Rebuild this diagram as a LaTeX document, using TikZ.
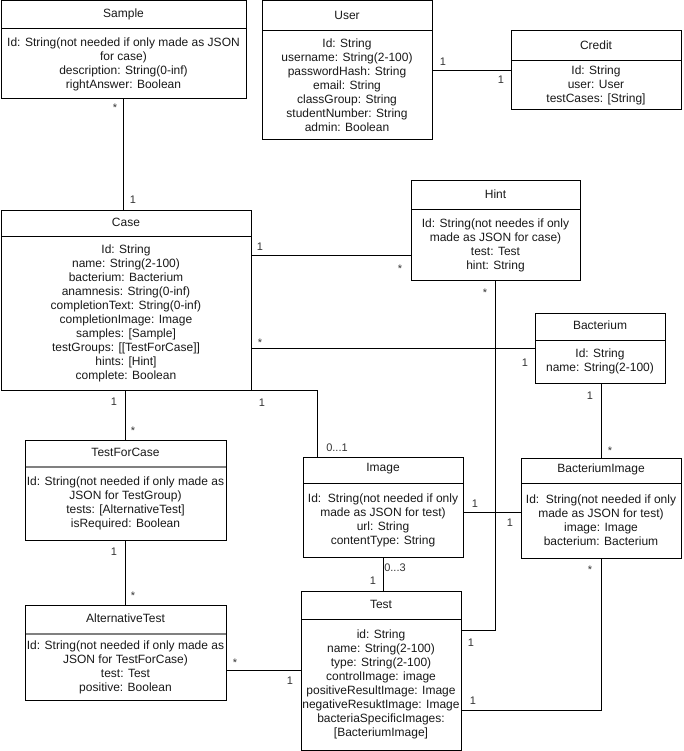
\documentclass[tikz,border=0pt]{standalone}
\usepackage{fontspec}
\setmainfont{Liberation Sans}
\usetikzlibrary{calc}
\newcommand\umlbox[8]{%
  \node[umlrect, minimum width=#4pt, minimum height=#5pt, anchor=north west] (#1) at (#2,#3) {};
  \draw[umlline] ($(#1.north west)+(0,#6)$) -- ($(#1.north east)+(0,#6)$);
  \node[umltext] (#1-title) at ($(#1.north)+(0,{#6/2-1})$) {#7};
  \node[umltext] (#1-body) at ($(#1.north)+(0,{(#5+#6)/2})$) {#8};
}
\begin{document}
\begin{tikzpicture}[x=1pt,y=-1pt,
  umlrect/.style={draw, line width=1pt, inner sep=0pt, outer sep=0pt, fill=white},
  umlline/.style={line width=1pt},
  umltext/.style={inner sep=0pt, align=center, font=\fontsize{12}{14}\selectfont, text=black!90},
  conn/.style={line width=1pt},
  grayhdr/.style={line width=2pt, draw=black!50},
  mult/.style={inner sep=0pt, font=\fontsize{11}{13}\selectfont, text=black!80, text height=8pt, text depth=0pt}]
\useasboundingbox[fill=white] (0,0) rectangle (684,751);

\umlbox{sample}{1}{1}{245}{98}{28}{Sample}{Id: String(not needed if only made as JSON\\for case)\\description: String(0-inf)\\rightAnswer: Boolean}
\umlbox{user}{262}{1}{170}{139}{30}{User}{Id: String\\username: String(2-100)\\passwordHash: String\\email: String\\classGroup: String\\studentNumber: String\\admin: Boolean}
\umlbox{credit}{511}{31}{170}{79}{30}{Credit}{Id: String\\user: User\\testCases: [String]}
\umlbox{case}{1}{211}{250}{179}{25}{Case}{Id: String\\name: String(2-100)\\bacterium: Bacterium\\anamnesis: String(0-inf)\\completionText: String(0-inf)\\completionImage: Image\\samples: [Sample]\\testGroups: [[TestForCase]]\\hints: [Hint]\\complete: Boolean}
\umlbox{hint}{411}{181}{169}{99}{29}{Hint}{Id: String(not needes if only\\made as JSON for case)\\test: Test\\hint: String}
\umlbox{bacterium}{535}{313}{130}{70}{27}{Bacterium}{Id: String\\name: String(2-100)}
\umlbox{testforcase}{25}{440}{201}{100}{27}{TestForCase}{Id: String(not needed if only made as\\JSON for TestGroup)\\tests: [AlternativeTest]\\isRequired: Boolean}
\umlbox{image}{303}{457}{160}{100}{26}{Image}{Id:\ \ String(not needed if only\\made as JSON for test)\\url: String\\contentType: String}
\umlbox{bactimage}{521}{458}{160}{100}{25}{BacteriumImage}{Id:\ \ String(not needed if only\\made as JSON for test)\\image: Image\\bacterium: Bacterium}
\umlbox{alttest}{25}{605}{201}{95}{29}{AlternativeTest}{Id: String(not needed if only made as\\JSON for TestForCase)\\test: Test\\positive: Boolean}
\umlbox{test}{301}{591}{160}{159}{28}{Test}{id: String\\name: String(2-100)\\type: String(2-100)\\controlImage: image\\positiveResultImage: Image\\negativeResuktImage: Image\\bacteriaSpecificImages:\\{[BacteriumImage]}}

% grey header separators
\draw[grayhdr] ($(testforcase.north west)+(0.5,27)$) -- ($(testforcase.north east)+(-0.5,27)$);
\draw[grayhdr] ($(alttest.north west)+(0.5,29)$) -- ($(alttest.north east)+(-0.5,29)$);

% connectors
\draw[conn] (sample.south) -- (sample.south |- case.north);
\draw[conn] (user.east |- credit.west) -- (credit.west);
\draw[conn] ($(case.north east)+(0,44)$) -- (hint.west |- {$(case.north east)+(0,44)$});
\draw[conn] (case.east |- bacterium.west) -- (bacterium.west);
\draw[conn] (testforcase.north |- case.south) -- (testforcase.north);
\draw[conn] (case.south east) -| ($(image.north west)+(14,0)$);
\draw[conn] (hint.south) |- ($(test.north east)+(0,39)$);
\draw[conn] (bactimage.north |- bacterium.south) -- (bactimage.north);
\draw[conn] ($(image.north east)+(0,55)$) -- (bactimage.west |- {$(image.north east)+(0,55)$});
\draw[conn] (image.south) -- (image.south |- test.north);
\draw[conn] (alttest.north |- testforcase.south) -- (alttest.north);
\draw[conn] ($(alttest.north east)+(0,65)$) -- (test.west |- {$(alttest.north east)+(0,65)$});
\draw[conn] ($(test.north east)+(0,119)$) -| (bactimage.south);

% multiplicities
\node[mult] (m1) at (115,108) {*};
\node[mult] (m2) at (133,200) {1};
\node[mult] (m3) at (443,62) {1};
\node[mult] (m4) at (501,80) {1};
\node[mult] (m5) at (260,246) {1};
\node[mult] (m6) at (400,268) {*};
\node[mult] (m7) at (485,292) {*};
\node[mult] (m8) at (471,642) {1};
\node[mult] (m9) at (260,342) {*};
\node[mult] (m10) at (525,362) {1};
\node[mult] (m11) at (114,401) {1};
\node[mult] (m12) at (133,430) {*};
\node[mult] (m13) at (262,402) {1};
\node[mult] (m14) at (337,447) {0...1};
\node[mult] (m15) at (590,395) {1};
\node[mult] (m16) at (610,450) {*};
\node[mult] (m17) at (475,503) {1};
\node[mult] (m18) at (510,522) {1};
\node[mult] (m19) at (395,567) {0...3};
\node[mult] (m20) at (373,580) {1};
\node[mult] (m21) at (114,551) {1};
\node[mult] (m22) at (133,595) {*};
\node[mult] (m23) at (235,662) {*};
\node[mult] (m24) at (290,680) {1};
\node[mult] (m25) at (473,700) {1};
\node[mult] (m26) at (590,569) {*};
\end{tikzpicture}
\end{document}
